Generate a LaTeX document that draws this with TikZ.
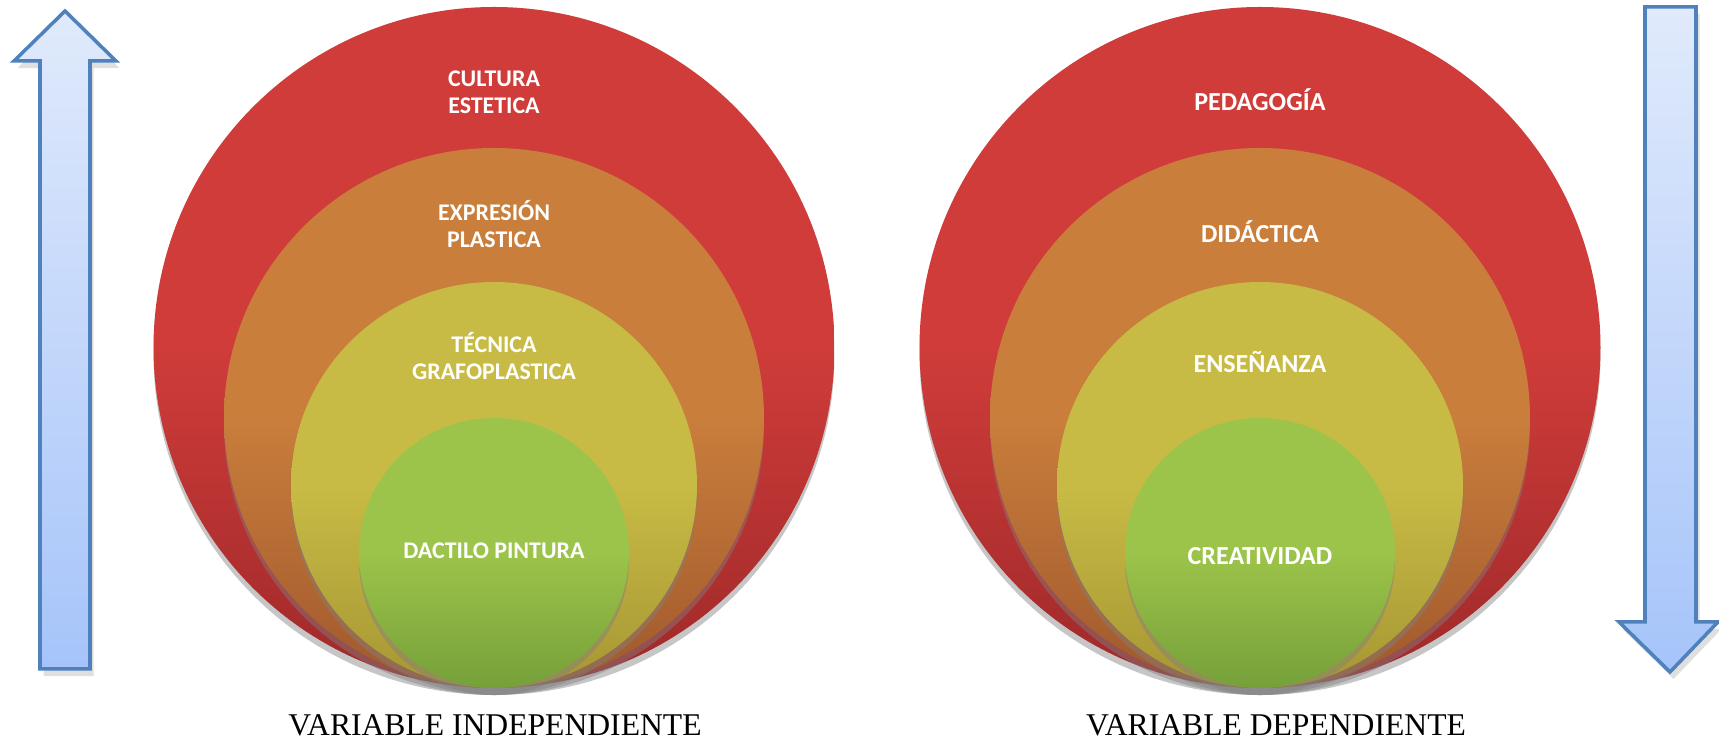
\documentclass[tikz,border=0pt]{standalone}
\usepackage{fontspec}
\setmainfont{Liberation Serif}
\newfontfamily\carlito{Carlito}
\usetikzlibrary{shadows}

\definecolor{redtop}{HTML}{CF3C3A}
\definecolor{redbot}{HTML}{9E2929}
\definecolor{orgtop}{HTML}{C97E3C}
\definecolor{orgbot}{HTML}{A0582C}
\definecolor{yeltop}{HTML}{C8BB45}
\definecolor{yelbot}{HTML}{A69633}
\definecolor{grntop}{HTML}{9CC44A}
\definecolor{grnbot}{HTML}{76A03A}
\definecolor{arrtop}{HTML}{E0EAFB}
\definecolor{arrbot}{HTML}{A6C4FA}
\definecolor{arrline}{HTML}{4F81BD}

\tikzset{
  ring/.style={circle, inner sep=0pt, minimum size=#1,
    drop shadow={opacity=.45, shadow xshift=0pt, shadow yshift=-2pt}},
  redring/.style={top color=redtop, bottom color=redbot, middle color=redtop},
  orgring/.style={top color=orgtop, bottom color=orgbot, middle color=orgtop},
  yelring/.style={top color=yeltop, bottom color=yelbot, middle color=yeltop},
  grnring/.style={top color=grntop, bottom color=grnbot, middle color=grntop},
  smalltxt/.style={text=white, align=center, font=\carlito\bfseries\fontsize{6.8}{7.6}\selectfont},
  bigtxt/.style={text=white, font=\carlito\bfseries\fontsize{7.4}{8.8}\selectfont},
  vartxt/.style={font=\fontsize{9}{10}\selectfont},
  bigarrow/.style={draw=arrline, line width=1pt, top color=arrtop, bottom color=arrbot,
    drop shadow={opacity=.25, shadow xshift=1pt, shadow yshift=-2pt}}
}

\begin{document}
\begin{tikzpicture}
\useasboundingbox (0,0) rectangle (17.19,7.45);

% arrows
\path[bigarrow] (0.65,7.34) -- (1.16,6.84) -- (0.90,6.84) -- (0.90,0.76)
        -- (0.40,0.76) -- (0.40,6.84) -- (0.14,6.84) -- cycle;
\path[bigarrow] (16.45,7.38) -- (16.96,7.38) -- (16.96,1.23) -- (17.18,1.23)
        -- (16.70,0.73) -- (16.19,1.23) -- (16.45,1.23) -- cycle;

% independent variable
\node[ring=6.81cm, redring] (culturaL) at (4.94,3.975) {};
\node[ring=5.40cm, orgring] (expresionL) at (4.94,3.27) {};
\node[ring=4.06cm, yelring] (tecnicaL) at (4.94,2.60) {};
\node[ring=2.70cm, grnring] (dactiloL) at (4.94,1.92) {};

\node[smalltxt] (cultura) at (4.94,6.53) {CULTURA\\ESTETICA};
\node[smalltxt] (expresion) at (4.94,5.21) {EXPRESIÓN\\PLASTICA};
\node[smalltxt] (tecnica) at (4.94,3.89) {TÉCNICA\\GRAFOPLASTICA};
\node[smalltxt] (dactilo) at (4.94,1.94) {DACTILO PINTURA};

% dependent variable
\node[ring=6.81cm, redring] (pedagogiaR) at (12.60,3.975) {};
\node[ring=5.40cm, orgring] (didacticaR) at (12.60,3.27) {};
\node[ring=4.06cm, yelring] (ensenanzaR) at (12.60,2.60) {};
\node[ring=2.70cm, grnring] (creatividadR) at (12.60,1.92) {};

\node[bigtxt] (pedagogia) at (12.60,6.45) {PEDAGOGÍA};
\node[bigtxt] (didactica) at (12.60,5.13) {DIDÁCTICA};
\node[bigtxt] (ensenanza) at (12.60,3.83) {ENSEÑANZA};
\node[bigtxt] (creatividad) at (12.60,1.89) {CREATIVIDAD};

\node[vartxt] (indep) at (4.95,0.20) {VARIABLE INDEPENDIENTE};
\node[vartxt] (dep) at (12.76,0.20) {VARIABLE DEPENDIENTE};
\end{tikzpicture}
\end{document}
